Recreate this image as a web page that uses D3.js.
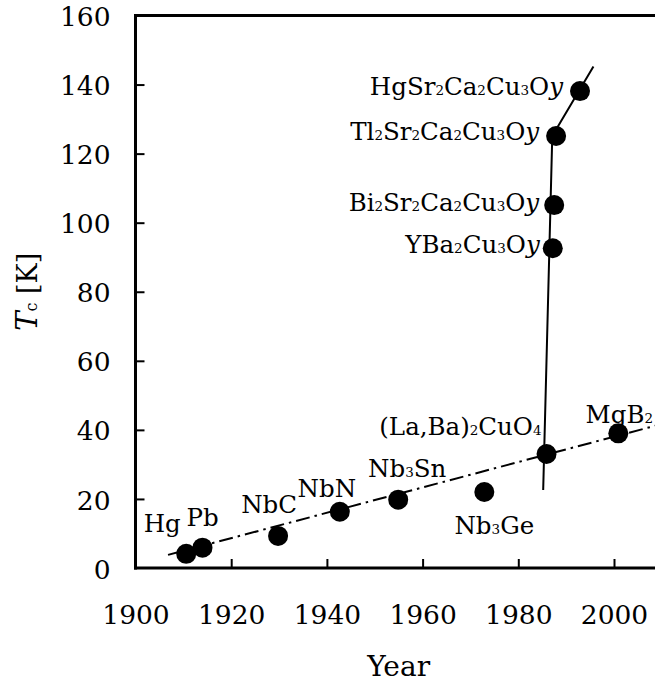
<!DOCTYPE html>
<html>
<head>
<meta charset="utf-8">
<script src="https://cdn.jsdelivr.net/npm/d3@7"></script>
<style>
  html, body { margin: 0; padding: 0; background: #fff; }
  svg { display: block; }
  svg text { font-family: "DejaVu Serif", serif; fill: #000; }
</style>
</head>
<body>
<div id="chart"></div>
<script>
// ---------------- data ----------------
const materials = ["Hg", "Pb", "NbC", "NbN", "Nb3Sn", "Nb3Ge", "(La,Ba)2CuO4", "MgB2",
                   "YBa2Cu3Oy", "Bi2Sr2Ca2Cu3Oy", "Tl2Sr2Ca2Cu3Oy", "HgSr2Ca2Cu3Oy"];
const years = [1910.6, 1914.0, 1929.8, 1942.7, 1954.9, 1972.9, 1985.9, 2000.9,
               1987.2, 1987.5, 1987.9, 1992.9];
const tcValues = [4.1, 5.9, 9.3, 16.3, 19.8, 22.0, 33.0, 39.0,
                  92.6, 105.1, 125.1, 138.1];
// trend lines
const conventionalTrend = [[1906.8, 3.8], [2010, 41.7]];
const cuprateTrend = [[1985.2, 22.6], [1987.1, 125.1], [1995.7, 145.2]];
// ticks
const xTickValues = [1900, 1920, 1940, 1960, 1980, 2000];
const yTickValues = [0, 20, 40, 60, 80, 100, 120, 140, 160];

// label placement (pixels relative to the point)
const labelLayout = [
  {dx: -24, dy: -22, anchor: "middle"},
  {dx: 0,   dy: -22, anchor: "middle"},
  {dx: -9,  dy: -23, anchor: "middle"},
  {dx: -13, dy: -15, anchor: "middle"},
  {dx: 9,   dy: -23, anchor: "middle"},
  {dx: 10,  dy: 42,  anchor: "middle"},
  {dx: -5,  dy: -19, anchor: "end"},
  {dx: 1,   dy: -10, anchor: "middle"},
  {dx: -13, dy: 5,   anchor: "end"},
  {dx: -15, dy: 6,   anchor: "end"},
  {dx: -17, dy: 4,   anchor: "end"},
  {dx: -17, dy: 4,   anchor: "end"}
];

// ---------------- layout ----------------
const W = 655, H = 682;
const x = d3.scaleLinear().domain([1900, 2000]).range([135.5, 614]);
const y = d3.scaleLinear().domain([0, 160]).range([568, 15.5]);
const xMax = 2010;

const svg = d3.select("#chart").append("svg")
  .attr("width", W).attr("height", H);

// axes lines (frame)
const frame = svg.append("g").attr("stroke", "#000").attr("stroke-width", 3).attr("fill", "none");
frame.append("line").attr("x1", x(1900)).attr("x2", x(1900)).attr("y1", y(160) - 1.5).attr("y2", y(0) + 1.5);
frame.append("line").attr("x1", x(1900) - 1.5).attr("x2", x(xMax)).attr("y1", y(0)).attr("y2", y(0));
frame.append("line").attr("x1", x(1900) - 1.5).attr("x2", x(xMax)).attr("y1", y(160)).attr("y2", y(160));

// y axis
const yAxis = d3.axisLeft(y).tickValues(yTickValues).tickSize(-9).tickPadding(25)
  .tickFormat(d3.format("d"));
const gy = svg.append("g").attr("transform", `translate(${x(1900)},0)`).call(yAxis)
  .attr("font-family", null);
gy.select(".domain").remove();
gy.selectAll(".tick line").attr("stroke", "#000").attr("stroke-width", 2)
  .attr("display", d => (d === 0 || d === 160) ? "none" : null);
gy.selectAll(".tick text").attr("font-size", 26.5)
  .attr("dy", "0.38em").attr("fill", "#000");

// x axis
const xAxis = d3.axisBottom(x).tickValues(xTickValues).tickSize(-9).tickPadding(37)
  .tickFormat(d3.format("d"));
const gx = svg.append("g").attr("transform", `translate(0,${y(0)})`).call(xAxis)
  .attr("font-family", null);
gx.select(".domain").remove();
gx.selectAll(".tick line").attr("stroke", "#000").attr("stroke-width", 2)
  .attr("display", d => d === 1900 ? "none" : null);
gx.selectAll(".tick text").attr("font-size", 26.5)
  .attr("dy", "0.71em").attr("fill", "#000");

// axis titles
svg.append("text").attr("x", (x(1900) + x(xMax)) / 2).attr("y", 676)
  .attr("text-anchor", "middle").attr("font-size", 28).text("Year");

const yt = svg.append("text")
  .attr("transform", `translate(37,${(y(0) + y(160)) / 2}) rotate(-90)`)
  .attr("text-anchor", "middle").attr("font-size", 27);
yt.append("tspan").attr("font-style", "italic").attr("font-size", 29).text("T");
yt.append("tspan").attr("font-size", 16).text("c");
yt.append("tspan").text(" [K]");

// trend lines
const line = d3.line().x(d => x(d[0])).y(d => y(d[1]));
svg.append("path").datum(conventionalTrend).attr("d", line)
  .attr("fill", "none").attr("stroke", "#000").attr("stroke-width", 2)
  .attr("stroke-dasharray", "14,5,2.5,5");
svg.append("path").datum(cuprateTrend).attr("d", line)
  .attr("fill", "none").attr("stroke", "#000").attr("stroke-width", 2);

// points
svg.append("g").selectAll("circle").data(years).join("circle")
  .attr("cx", d => x(d)).attr("cy", (d, i) => y(tcValues[i])).attr("r", 10)
  .attr("fill", "#000");

// labels with subscripts
function tokens(name) {
  const out = [];
  for (let i = 0; i < name.length; i++) {
    const ch = name[i];
    let type = "n";
    if (/\d/.test(ch)) type = "s";
    else if (ch === "y" && i === name.length - 1 && name[i - 1] === "O") type = "i";
    if (out.length && out[out.length - 1].type === type) out[out.length - 1].t += ch;
    else out.push({type, t: ch});
  }
  return out;
}
const lbl = svg.append("g");
materials.forEach((m, i) => {
  const L = labelLayout[i];
  const t = lbl.append("text")
    .attr("x", x(years[i]) + L.dx).attr("y", y(tcValues[i]) + L.dy)
    .attr("text-anchor", L.anchor).attr("font-size", 24.5);
  tokens(m).forEach(tok => {
    const s = t.append("tspan").text(tok.t);
    if (tok.type === "s") s.attr("font-size", 13.5);
    if (tok.type === "i") s.attr("font-style", "italic");
  });
});
</script>
</body>
</html>
